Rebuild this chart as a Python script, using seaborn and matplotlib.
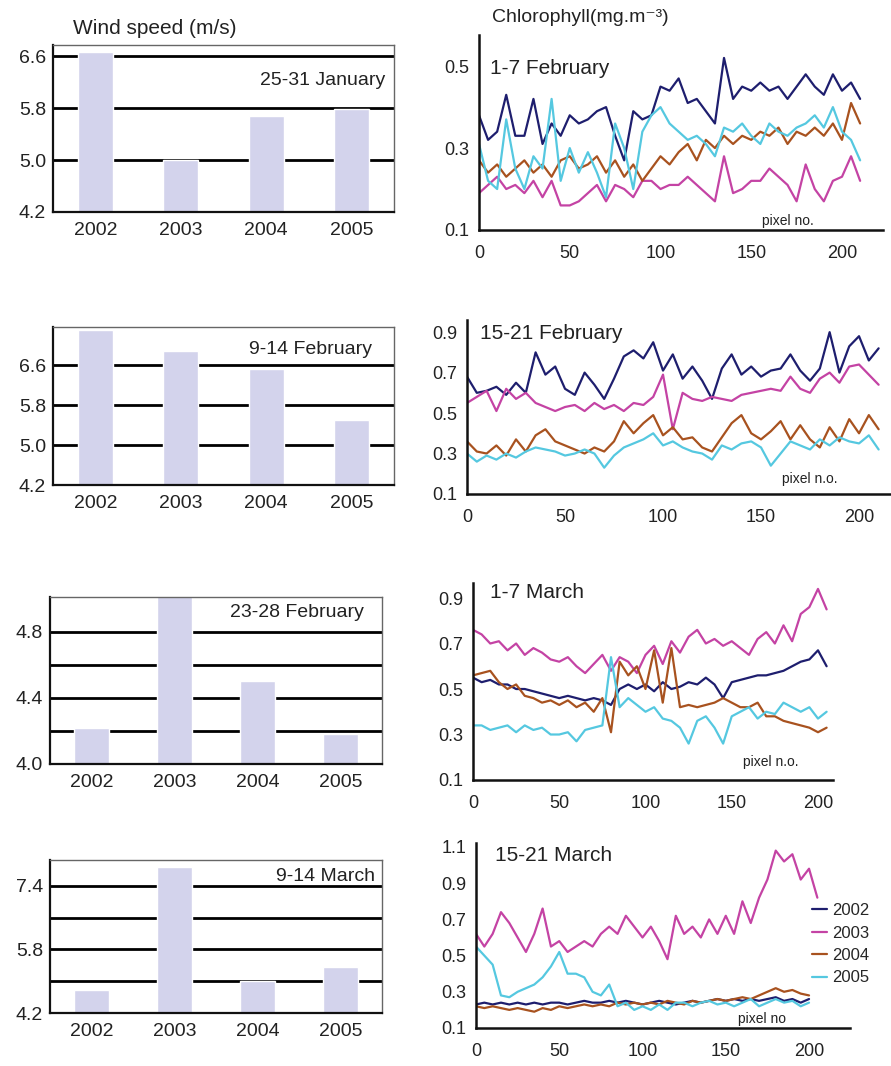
import matplotlib
matplotlib.use('Agg')
import matplotlib.pyplot as plt
import seaborn as sns

years = ['2002', '2003', '2004', '2005']

# wind speed, m/s
wind_jan = [6.66, 5.00, 5.68, 5.78]
wind_feb1 = [7.30, 6.88, 6.52, 5.50]
wind_feb2 = [4.22, 5.05, 4.50, 4.18]
wind_mar = [4.78, 7.88, 5.00, 5.36]

pixel = list(range(0, 211, 5))

# chlorophyll, 1-7 February
feb1_2002 = [0.38, 0.32, 0.34, 0.43, 0.33, 0.33, 0.42, 0.31, 0.36, 0.33, 0.38, 0.36, 0.37, 0.39,
             0.40, 0.33, 0.27, 0.39, 0.37, 0.38, 0.45, 0.44, 0.47, 0.41, 0.42, 0.39, 0.36, 0.52,
             0.42, 0.45, 0.44, 0.46, 0.44, 0.45, 0.42, 0.45, 0.48, 0.45, 0.43, 0.48, 0.44, 0.46, 0.42]
feb1_2003 = [0.19, 0.21, 0.23, 0.20, 0.21, 0.19, 0.22, 0.18, 0.22, 0.16, 0.16, 0.17, 0.19, 0.21,
             0.17, 0.21, 0.20, 0.18, 0.22, 0.22, 0.20, 0.21, 0.21, 0.23, 0.21, 0.19, 0.17, 0.28,
             0.19, 0.20, 0.22, 0.22, 0.25, 0.23, 0.21, 0.17, 0.26, 0.20, 0.17, 0.22, 0.23, 0.28, 0.22]
feb1_2004 = [0.27, 0.24, 0.26, 0.23, 0.25, 0.27, 0.24, 0.26, 0.23, 0.27, 0.28, 0.25, 0.26, 0.28,
             0.24, 0.27, 0.23, 0.26, 0.22, 0.25, 0.28, 0.26, 0.29, 0.31, 0.27, 0.32, 0.30, 0.33,
             0.31, 0.33, 0.32, 0.34, 0.33, 0.35, 0.31, 0.34, 0.33, 0.35, 0.33, 0.36, 0.32, 0.41, 0.36]
feb1_2005 = [0.31, 0.22, 0.20, 0.37, 0.25, 0.20, 0.28, 0.25, 0.42, 0.22, 0.30, 0.24, 0.29, 0.24,
             0.18, 0.36, 0.30, 0.20, 0.34, 0.38, 0.40, 0.36, 0.34, 0.32, 0.33, 0.31, 0.28, 0.35,
             0.34, 0.36, 0.33, 0.31, 0.36, 0.34, 0.33, 0.35, 0.36, 0.38, 0.35, 0.40, 0.34, 0.32, 0.27]

# 15-21 February
feb2_2002 = [0.68, 0.60, 0.61, 0.63, 0.59, 0.65, 0.60, 0.80, 0.69, 0.73, 0.62, 0.59, 0.70, 0.64,
             0.57, 0.67, 0.78, 0.81, 0.77, 0.85, 0.71, 0.79, 0.67, 0.73, 0.66, 0.57, 0.72, 0.79,
             0.69, 0.73, 0.68, 0.71, 0.72, 0.79, 0.71, 0.66, 0.72, 0.90, 0.70, 0.83, 0.88, 0.76, 0.82]
feb2_2003 = [0.55, 0.58, 0.61, 0.51, 0.62, 0.57, 0.60, 0.55, 0.53, 0.51, 0.53, 0.54, 0.51, 0.55,
             0.52, 0.54, 0.51, 0.55, 0.54, 0.58, 0.69, 0.42, 0.60, 0.57, 0.56, 0.58, 0.57, 0.56,
             0.59, 0.60, 0.61, 0.62, 0.61, 0.68, 0.62, 0.60, 0.67, 0.70, 0.65, 0.73, 0.74, 0.69, 0.64]
feb2_2004 = [0.36, 0.31, 0.30, 0.34, 0.29, 0.37, 0.31, 0.39, 0.42, 0.36, 0.34, 0.32, 0.30, 0.33,
             0.31, 0.36, 0.46, 0.40, 0.45, 0.49, 0.39, 0.43, 0.37, 0.38, 0.33, 0.31, 0.38, 0.45,
             0.49, 0.40, 0.37, 0.41, 0.46, 0.37, 0.44, 0.37, 0.33, 0.43, 0.36, 0.47, 0.40, 0.49, 0.42]
feb2_2005 = [0.30, 0.26, 0.29, 0.27, 0.30, 0.28, 0.31, 0.33, 0.32, 0.31, 0.29, 0.30, 0.32, 0.30,
             0.23, 0.29, 0.33, 0.35, 0.37, 0.40, 0.34, 0.36, 0.33, 0.31, 0.30, 0.27, 0.34, 0.32,
             0.35, 0.36, 0.33, 0.24, 0.30, 0.36, 0.34, 0.32, 0.37, 0.34, 0.38, 0.36, 0.35, 0.39, 0.32]

# 1-7 March
mar1_2002 = [0.55, 0.53, 0.54, 0.52, 0.52, 0.50, 0.50, 0.49, 0.48, 0.47, 0.46, 0.47, 0.46, 0.45,
             0.46, 0.45, 0.43, 0.50, 0.52, 0.50, 0.52, 0.49, 0.53, 0.50, 0.51, 0.53, 0.52, 0.55,
             0.52, 0.46, 0.53, 0.54, 0.55, 0.56, 0.56, 0.57, 0.58, 0.60, 0.62, 0.63, 0.67, 0.60]
mar1_2003 = [0.76, 0.74, 0.70, 0.71, 0.67, 0.70, 0.65, 0.68, 0.66, 0.63, 0.62, 0.64, 0.60, 0.57,
             0.61, 0.65, 0.58, 0.64, 0.62, 0.57, 0.65, 0.69, 0.61, 0.71, 0.66, 0.73, 0.76, 0.70,
             0.72, 0.69, 0.71, 0.68, 0.65, 0.72, 0.75, 0.70, 0.78, 0.71, 0.83, 0.86, 0.94, 0.85]
mar1_2004 = [0.56, 0.57, 0.58, 0.53, 0.50, 0.52, 0.47, 0.46, 0.44, 0.45, 0.43, 0.45, 0.42, 0.44,
             0.40, 0.46, 0.31, 0.62, 0.56, 0.60, 0.50, 0.67, 0.44, 0.68, 0.42, 0.43, 0.42, 0.43,
             0.44, 0.46, 0.44, 0.42, 0.42, 0.44, 0.38, 0.38, 0.36, 0.35, 0.34, 0.33, 0.31, 0.33]
mar1_2005 = [0.34, 0.34, 0.32, 0.33, 0.34, 0.31, 0.34, 0.32, 0.33, 0.30, 0.30, 0.31, 0.27, 0.32,
             0.33, 0.34, 0.64, 0.42, 0.46, 0.43, 0.40, 0.42, 0.37, 0.36, 0.33, 0.26, 0.36, 0.38,
             0.33, 0.26, 0.38, 0.40, 0.42, 0.37, 0.40, 0.39, 0.44, 0.42, 0.40, 0.42, 0.37, 0.40]

# 15-21 March
mar2_2002 = [0.23, 0.24, 0.23, 0.24, 0.23, 0.24, 0.23, 0.24, 0.23, 0.24, 0.24, 0.23, 0.24, 0.25,
             0.24, 0.24, 0.25, 0.24, 0.25, 0.24, 0.23, 0.24, 0.25, 0.24, 0.23, 0.24, 0.25, 0.24,
             0.25, 0.26, 0.25, 0.26, 0.25, 0.26, 0.25, 0.26, 0.27, 0.25, 0.26, 0.24, 0.26]
mar2_2003 = [0.62, 0.55, 0.62, 0.74, 0.68, 0.60, 0.52, 0.62, 0.76, 0.55, 0.58, 0.52, 0.55, 0.58,
             0.55, 0.62, 0.66, 0.62, 0.72, 0.66, 0.60, 0.66, 0.58, 0.48, 0.72, 0.62, 0.66, 0.60,
             0.70, 0.62, 0.72, 0.62, 0.80, 0.68, 0.82, 0.92, 1.08, 1.02, 1.06, 0.92, 0.98, 0.82]
mar2_2004 = [0.22, 0.21, 0.22, 0.21, 0.20, 0.21, 0.20, 0.19, 0.21, 0.20, 0.22, 0.21, 0.22, 0.23,
             0.22, 0.23, 0.22, 0.24, 0.23, 0.24, 0.23, 0.24, 0.23, 0.25, 0.24, 0.23, 0.25, 0.24,
             0.25, 0.26, 0.25, 0.26, 0.27, 0.26, 0.28, 0.30, 0.32, 0.30, 0.31, 0.29, 0.28]
mar2_2005 = [0.55, 0.50, 0.45, 0.28, 0.27, 0.30, 0.32, 0.34, 0.38, 0.44, 0.52, 0.40, 0.40, 0.38,
             0.30, 0.28, 0.34, 0.22, 0.24, 0.20, 0.22, 0.20, 0.23, 0.20, 0.24, 0.24, 0.22, 0.24,
             0.25, 0.23, 0.24, 0.22, 0.24, 0.26, 0.22, 0.24, 0.26, 0.24, 0.25, 0.22, 0.24]

colors = {'2002': '#1e1e6e', '2003': '#c443a4', '2004': '#a8521f', '2005': '#55c8e0'}
BAR = '#d3d3ec'
INK = '#222222'

sns.set_style('white')
plt.rcParams['font.family'] = ['Liberation Sans', 'DejaVu Sans']

W, H = 891, 1066
fig = plt.figure(figsize=(W / 100, H / 100), dpi=100)


def px_rect(l, r, t, b):
    return [l / W, 1 - b / H, (r - l) / W, (b - t) / H]


def bar_panel(rect, vals, ylim, ticks, labels, note, note_xy):
    ax = fig.add_axes(rect)
    ax.set_axisbelow(True)
    sns.barplot(x=years, y=vals, color=BAR, saturation=1, width=0.41, ax=ax)
    ax.set_ylim(*ylim)
    ax.set_yticks(ticks)
    ax.set_yticklabels(labels)
    ax.yaxis.grid(True, color='black', linewidth=2)
    ax.xaxis.grid(False)
    ax.set_xlabel('')
    ax.set_ylabel('')
    for s in ['left', 'bottom']:
        ax.spines[s].set_color('#111111')
        ax.spines[s].set_linewidth(1.6)
    for s in ['top', 'right']:
        ax.spines[s].set_color('#666666')
        ax.spines[s].set_linewidth(1.0)
    ax.tick_params(axis='y', direction='out', length=4, width=1.2, labelsize=14, colors=INK, pad=1)
    ax.tick_params(axis='x', length=0, labelsize=14, colors=INK, pad=7)
    ax.text(note_xy[0], note_xy[1], note, transform=ax.transAxes, ha='right', va='center',
            fontsize=14, color=INK)
    return ax


def line_panel(rect, series, xlim, ylim, yticks, note, note_xy, pix_txt, pix_xy):
    ax = fig.add_axes(rect)
    for yr, vals in zip(years, series):
        sns.lineplot(x=pixel[:len(vals)], y=vals, color=colors[yr], linewidth=1.6,
                     ax=ax, label=yr, legend=False)
    ax.set_xlim(*xlim)
    ax.set_ylim(*ylim)
    ax.set_xticks([0, 50, 100, 150, 200])
    ax.set_yticks(yticks)
    ax.set_yticklabels(['%.1f' % t for t in yticks])
    sns.despine(ax=ax)
    for s in ['left', 'bottom']:
        ax.spines[s].set_color('#111111')
        ax.spines[s].set_linewidth(1.8)
    ax.tick_params(axis='y', direction='out', length=5, width=1.2, labelsize=13, colors=INK, pad=2)
    ax.tick_params(axis='x', direction='inout', length=6, width=1.2, labelsize=13, colors=INK, pad=8)
    ax.set_xlabel('')
    ax.set_ylabel('')
    ax.text(note_xy[0], note_xy[1], note, transform=ax.transAxes, ha='left', va='center',
            fontsize=15, color=INK)
    ax.text(pix_xy[0], pix_xy[1], pix_txt, transform=ax.transAxes, ha='left', va='center',
            fontsize=10, color=INK)
    return ax


bar_panel(px_rect(53, 394, 45, 212), wind_jan, (4.2, 6.77), [4.2, 5.0, 5.8, 6.6],
          ['4.2', '5.0', '5.8', '6.6'], '25-31 January', (0.975, 0.79))
bar_panel(px_rect(53, 394, 327, 485), wind_feb1, (4.2, 7.36), [4.2, 5.0, 5.8, 6.6],
          ['4.2', '5.0', '5.8', '6.6'], '9-14 February', (0.935, 0.855))
bar_panel(px_rect(50, 382, 597, 764), wind_feb2, (4.0, 5.01), [4.0, 4.2, 4.4, 4.6, 4.8],
          ['4.0', '', '4.4', '', '4.8'], '23-28 February', (0.945, 0.905))
bar_panel(px_rect(50, 382, 860, 1013), wind_mar, (4.2, 8.05), [4.2, 5.0, 5.8, 6.6, 7.4],
          ['4.2', '', '5.8', '', '7.4'], '9-14 March', (0.978, 0.89))

line_panel(px_rect(479, 883, 35, 230), [feb1_2002, feb1_2003, feb1_2004, feb1_2005],
           (0, 222.6), (0.1, 0.576), [0.1, 0.3, 0.5], '1-7 February', (0.027, 0.83),
           'pixel no.', (0.70, 0.045))
line_panel(px_rect(467, 890, 320, 494), [feb2_2002, feb2_2003, feb2_2004, feb2_2005],
           (0, 215.8), (0.1, 0.96), [0.1, 0.3, 0.5, 0.7, 0.9], '15-21 February', (0.031, 0.925),
           'pixel n.o.', (0.745, 0.085))
line_panel(px_rect(473, 833, 583, 780), [mar1_2002, mar1_2003, mar1_2004, mar1_2005],
           (0, 208.7), (0.1, 0.966), [0.1, 0.3, 0.5, 0.7, 0.9], '1-7 March', (0.047, 0.952),
           'pixel n.o.', (0.75, 0.09))
ax4 = line_panel(px_rect(476, 850, 843, 1028), [mar2_2002, mar2_2003, mar2_2004, mar2_2005],
                 (0, 224.6), (0.1, 1.122), [0.1, 0.3, 0.5, 0.7, 0.9, 1.1], '15-21 March', (0.051, 0.93),
                 'pixel no', (0.70, 0.05))
ax4.legend(loc='upper left', bbox_to_anchor=(812 / W, 1 - 903 / H), bbox_transform=fig.transFigure,
           frameon=False, fontsize=12, handlelength=0.9, handletextpad=0.3, labelspacing=0.45,
           borderaxespad=0, borderpad=0)

fig.text(73 / W, 1 - 28 / H, 'Wind speed (m/s)', ha='left', va='center', fontsize=15, color=INK)
fig.text(492 / W, 1 - 18 / H, 'Chlorophyll(mg.m\u207b\u00b3)', ha='left', va='center', fontsize=14, color=INK)

fig.savefig('out.png', dpi=100)
